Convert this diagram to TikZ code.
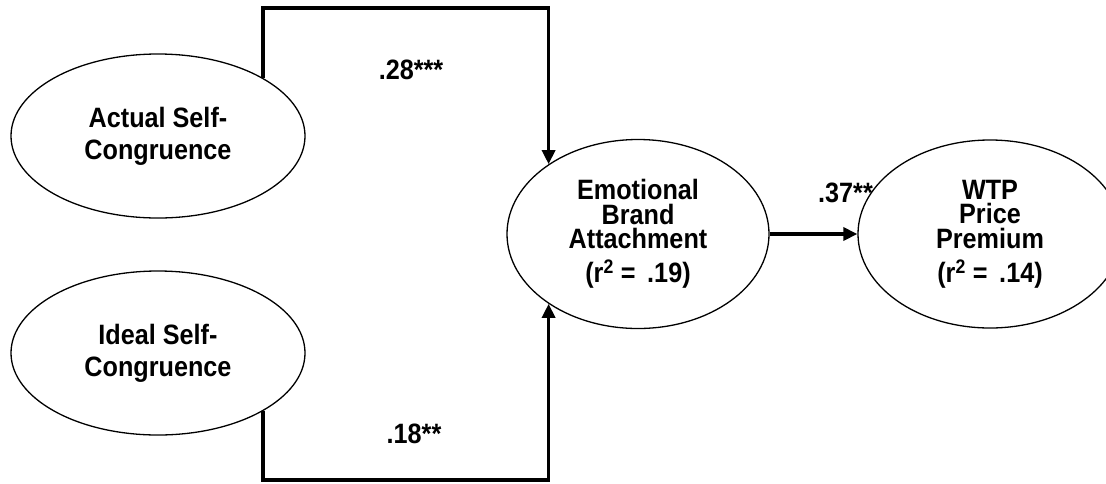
\documentclass[tikz,border=0pt]{standalone}
\usepackage{fontspec}
\setmainfont[FakeStretch=0.9]{Liberation Sans}
\usetikzlibrary{arrows.meta,shapes.geometric}

\tikzset{
  latent/.style={draw,ellipse,line width=1.3pt,fill=white,inner sep=0pt,
    align=center,font=\fontsize{28}{24.5}\selectfont\bfseries},
  path/.style={line width=3.4pt,line cap=butt,line join=miter},
  coef/.style={anchor=base,inner sep=0pt,font=\fontsize{28}{28}\selectfont\bfseries},
  tip/.style={-{Triangle[length=14pt,width=13pt]}}
}

\begin{document}
\begin{tikzpicture}[x=1pt,y=-1pt]
\useasboundingbox (0,0) rectangle (1106,483);
\clip (0,0) rectangle (1106,483);

% exogenous constructs
\node[latent,minimum width=294pt,minimum height=164pt] (actual) at (158,136)
  {Actual Self-\\[7.5pt]Congruence};
\node[latent,minimum width=294pt,minimum height=164pt] (ideal) at (158,353)
  {Ideal Self-\\[7.5pt]Congruence};

% mediator
\node[latent,minimum width=262pt,minimum height=189pt] (emo) at (638,234)
  {Emotional\\Brand\\Attachment\\[9.5pt](r\textsuperscript{2} =\, .19)};

% coefficient labels
\node[coef] (c28) at (411,79) {.28***};
\node[coef] (c18) at (414,443) {.18**};
\node[coef,anchor=base west] (c37) at (818,202) {.37**};

% outcome (drawn over the .37 label)
\node[latent,minimum width=264pt,minimum height=188pt] (wtp) at (990,234)
  {WTP\\Price\\Premium\\[9.5pt](r\textsuperscript{2} =\, .14)};

\coordinate (top) at (400,8);
\coordinate (bot) at (400,480);

\draw[path,tip] (actual.29) |- (top) -| (emo.142);
\draw[path,tip] (ideal.-29) |- (bot) -| (emo.218);
\draw[path,tip] (emo) -- (wtp);
\end{tikzpicture}
\end{document}
